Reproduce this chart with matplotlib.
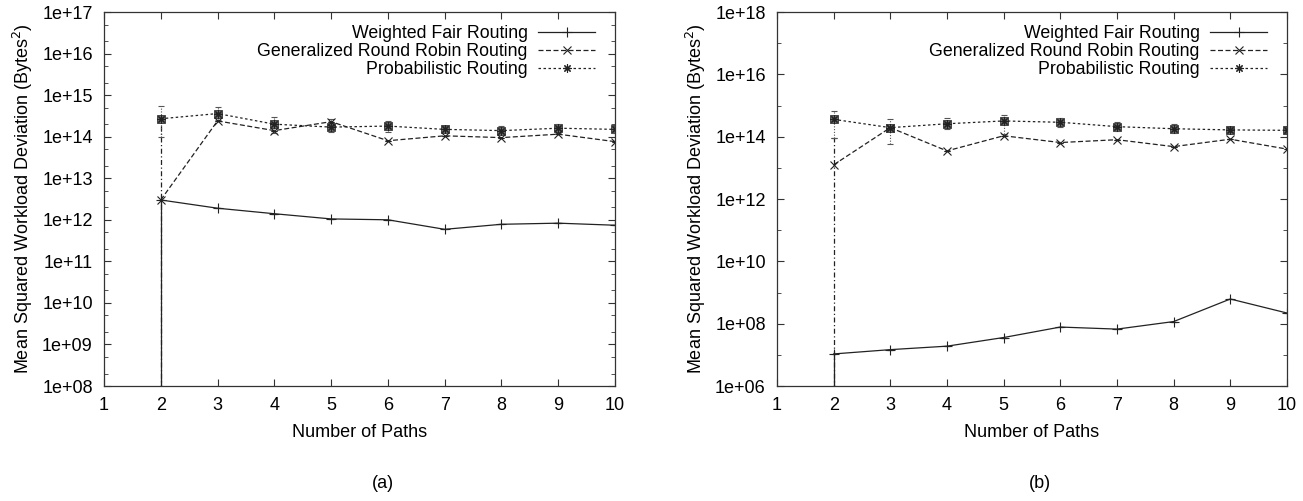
import numpy as np
import matplotlib
matplotlib.use("Agg")
import matplotlib.pyplot as plt
from matplotlib.lines import Line2D
from matplotlib.ticker import LogLocator, FuncFormatter, NullFormatter

plt.rcParams['font.family'] = ['Liberation Sans', 'DejaVu Sans']

# numero de caminos
paths = [2, 3, 4, 5, 6, 7, 8, 9, 10]

# panel (a)
wfr_a = [3.0e12, 1.9e12, 1.4e12, 1.05e12, 1.0e12, 5.9e11, 7.8e11, 8.3e11, 7.4e11]
wfr_a_lo = [1.0, 1.9e12, 1.4e12, 1.05e12, 1.0e12, 5.9e11, 7.8e11, 8.3e11, 7.4e11]
wfr_a_hi = [3.0e12, 1.9e12, 1.4e12, 1.05e12, 1.0e12, 5.9e11, 7.8e11, 8.3e11, 7.4e11]
grr_a = [3.0e12, 2.4e14, 1.4e14, 2.3e14, 8.0e13, 1.05e14, 9.5e13, 1.15e14, 7.6e13]
grr_a_lo = [1.0, 2.4e14, 1.4e14, 2.3e14, 8.0e13, 1.05e14, 9.5e13, 1.15e14, 7.6e13]
grr_a_hi = [2.4e14, 2.4e14, 1.4e14, 2.3e14, 8.0e13, 1.05e14, 9.5e13, 1.15e14, 7.6e13]
prob_a = [2.7e14, 3.6e14, 2.0e14, 1.7e14, 1.8e14, 1.5e14, 1.4e14, 1.6e14, 1.5e14]
prob_a_lo = [1.0e14, 2.5e14, 1.2e14, 1.3e14, 1.3e14, 1.2e14, 1.1e14, 1.2e14, 1.2e14]
prob_a_hi = [5.5e14, 5.3e14, 3.0e14, 2.7e14, 2.4e14, 1.8e14, 1.8e14, 2.0e14, 1.8e14]

# panel (b)
wfr_b = [1.07e7, 1.47e7, 1.9e7, 3.6e7, 7.8e7, 6.7e7, 1.17e8, 6.2e8, 2.2e8]
wfr_b_lo = [1.0, 1.47e7, 1.9e7, 3.6e7, 7.8e7, 6.7e7, 1.17e8, 6.2e8, 2.2e8]
wfr_b_hi = [1.07e7, 1.47e7, 1.9e7, 3.6e7, 7.8e7, 6.7e7, 1.17e8, 6.2e8, 2.2e8]
grr_b = [1.25e13, 1.95e14, 3.5e13, 1.07e14, 6.5e13, 8.0e13, 4.8e13, 8.3e13, 4.0e13]
grr_b_lo = [1.0, 1.95e14, 3.5e13, 1.07e14, 6.5e13, 8.0e13, 4.8e13, 8.3e13, 4.0e13]
grr_b_hi = [9.0e13, 1.95e14, 3.5e13, 1.07e14, 6.5e13, 8.0e13, 4.8e13, 8.3e13, 4.0e13]
prob_b = [3.6e14, 1.95e14, 2.6e14, 3.2e14, 2.9e14, 2.1e14, 1.8e14, 1.65e14, 1.6e14]
prob_b_lo = [9.0e13, 5.8e13, 1.8e14, 1.2e14, 2.1e14, 1.5e14, 1.3e14, 1.4e14, 1.3e14]
prob_b_hi = [6.5e14, 3.6e14, 3.9e14, 5.0e14, 4.1e14, 2.9e14, 2.5e14, 2.1e14, 2.1e14]

c = '#222222'
fs = 13


def yerr(v, lo, hi):
    v = np.array(v)
    return [v - np.array(lo), np.array(hi) - v]


def dibujar(ax, wfr, wfr_lo, wfr_hi, grr, grr_lo, grr_hi, prob, prob_lo, prob_hi):
    ax.errorbar(paths, wfr, yerr=yerr(wfr, wfr_lo, wfr_hi), color=c, lw=0.9,
                marker='+', ms=7, mew=0.8, capsize=2, elinewidth=0.9)
    e = ax.errorbar(paths, grr, yerr=yerr(grr, grr_lo, grr_hi), color=c, lw=0.9,
                    ls=(0, (4, 2)), marker='x', ms=6, mew=0.8, capsize=2, elinewidth=0.9)
    e[2][0].set_linestyle((0, (4, 2, 1, 2)))
    # cajas grises de las barras de error
    ax.plot(paths, prob, ls='none', marker='s', ms=6, mfc='#777777', mec='#333333', mew=0.6)
    e = ax.errorbar(paths, prob, yerr=yerr(prob, prob_lo, prob_hi), color=c, lw=0.9,
                    ls=(0, (2, 2)), marker=(8, 2, 0), ms=6, mew=0.8, capsize=2.5,
                    elinewidth=0.8, ecolor='#555555')
    e[2][0].set_linestyle((0, (1, 1.5)))

    ax.set_yscale('log')
    ax.set_xlim(1, 10)
    ax.set_xticks(range(1, 11))
    ax.set_xlabel('Number of Paths', fontsize=fs, labelpad=7)
    ax.set_ylabel('Mean Squared Workload Deviation (Bytes$^2$)', fontsize=fs, labelpad=5)
    ax.yaxis.set_major_formatter(FuncFormatter(lambda v, p: '1e+%02d' % int(round(np.log10(v)))))
    ax.yaxis.set_minor_formatter(NullFormatter())
    ax.tick_params(which='both', direction='in', top=True, right=True, labelsize=fs, color='#333333')
    ax.tick_params(which='major', length=5, width=0.8)
    ax.tick_params(axis='y', which='major', pad=8)
    ax.tick_params(axis='x', which='major', pad=8)
    ax.tick_params(which='minor', length=3, width=0.6)
    for s in ax.spines.values():
        s.set_linewidth(0.9)
        s.set_color('#333333')
    handles = [
        Line2D([], [], color=c, lw=0.9, marker='+', ms=7, mew=0.8),
        Line2D([], [], color=c, lw=0.9, ls=(0, (4, 2)), marker='x', ms=6, mew=0.8),
        Line2D([], [], color=c, lw=0.9, ls=(0, (2, 2)), marker=(8, 2, 0), ms=6, mew=0.8),
    ]
    labels = ['Weighted Fair Routing', 'Generalized Round Robin Routing', 'Probabilistic Routing']
    ax.legend(handles, labels, loc='upper right', bbox_to_anchor=(0.975, 0.985),
              frameon=False, markerfirst=False, fontsize=12.8,
              handlelength=3.2, labelspacing=0.07, borderaxespad=0, handletextpad=0.6)


fig = plt.figure(figsize=(13.03, 5.01), dpi=100)

ax1 = fig.add_axes([0.0798, 0.2295, 0.3922, 0.7465])
dibujar(ax1, wfr_a, wfr_a_lo, wfr_a_hi, grr_a, grr_a_lo, grr_a_hi, prob_a, prob_a_lo, prob_a_hi)
ax1.set_ylim(1e8, 1e17)
ax1.yaxis.set_major_locator(LogLocator(base=10, numticks=20))
ax1.yaxis.set_minor_locator(LogLocator(base=10, subs=(2.0, 5.0), numticks=20))

ax2 = fig.add_axes([0.5963, 0.2295, 0.3914, 0.7465])
dibujar(ax2, wfr_b, wfr_b_lo, wfr_b_hi, grr_b, grr_b_lo, grr_b_hi, prob_b, prob_b_lo, prob_b_hi)
ax2.set_ylim(1e6, 1e18)
ax2.set_yticks([10.0 ** k for k in range(6, 19, 2)])
ax2.set_yticks([10.0 ** k for k in range(7, 18, 2)], minor=True)

fig.text(0.294, 0.034, '(a)', ha='center', va='center', fontsize=fs)
fig.text(0.798, 0.034, '(b)', ha='center', va='center', fontsize=fs)

fig.savefig('out.png', dpi=100)
